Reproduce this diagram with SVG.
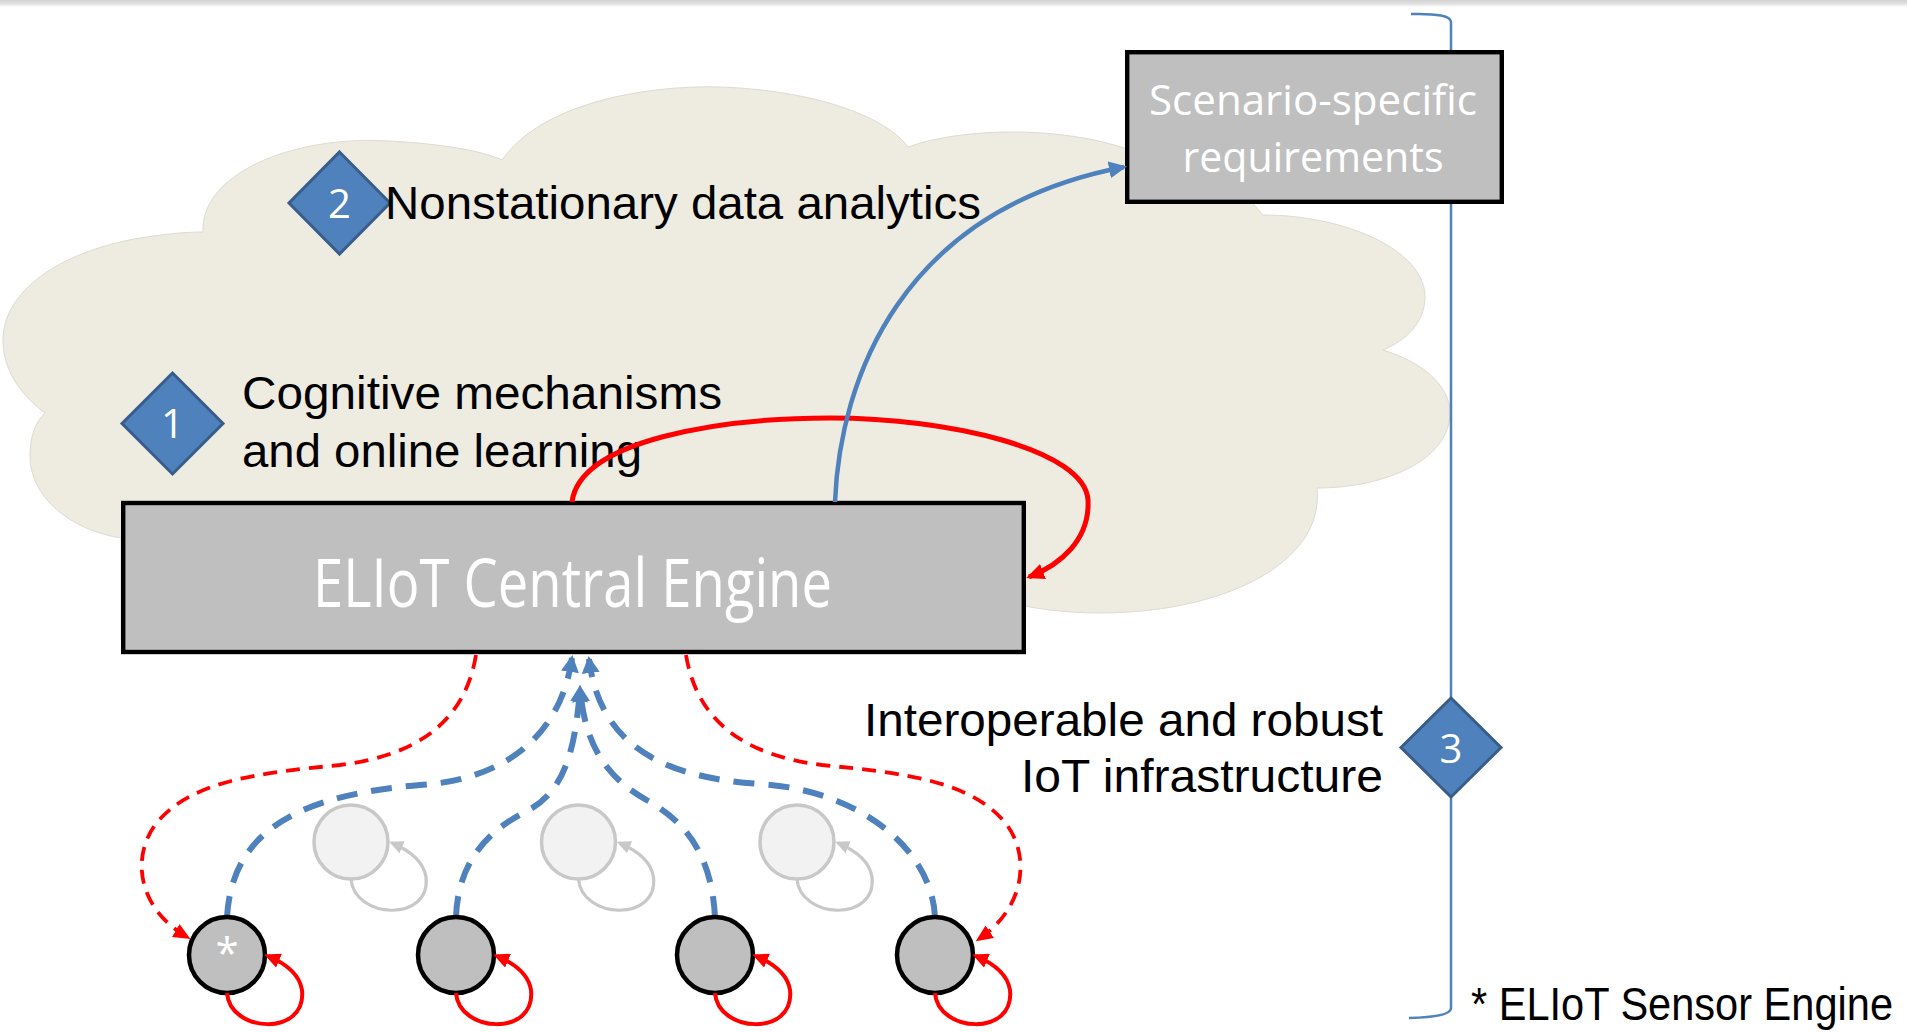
<svg xmlns="http://www.w3.org/2000/svg" width="1907" height="1032" viewBox="0 0 1907 1032">
<defs>
<linearGradient id="topband" x1="0" y1="0" x2="0" y2="1">
<stop offset="0" stop-color="#D2D2D2"/><stop offset="0.6" stop-color="#E4E4E4"/><stop offset="1" stop-color="#FFFFFF"/>
</linearGradient>
<marker id="ahRedS" viewBox="0 0 16 15" refX="12" refY="7.5" markerWidth="16" markerHeight="15" markerUnits="userSpaceOnUse" orient="auto"><path d="M0,0 L16,7.5 L0,15 z" fill="#FF0000"/></marker>
<marker id="ahRedL" viewBox="0 0 18 16" refX="15" refY="8" markerWidth="18" markerHeight="16" markerUnits="userSpaceOnUse" orient="auto"><path d="M0,0 L18,8 L0,16 z" fill="#FF0000"/></marker>
<marker id="ahRedD" viewBox="0 0 17 15" refX="13" refY="7.5" markerWidth="17" markerHeight="15" markerUnits="userSpaceOnUse" orient="auto"><path d="M0,0 L17,7.5 L0,15 z" fill="#FF0000"/></marker>
<marker id="ahBlueD" viewBox="0 0 17 18" refX="14" refY="9" markerWidth="17" markerHeight="18" markerUnits="userSpaceOnUse" orient="auto"><path d="M0,0 L17,9 L0,18 z" fill="#4F81BD"/></marker>
<marker id="ahBlueS" viewBox="0 0 18 17" refX="15" refY="8.5" markerWidth="18" markerHeight="17" markerUnits="userSpaceOnUse" orient="auto"><path d="M0,0 L18,8.5 L0,17 z" fill="#4F81BD"/></marker>
<marker id="ahGray" viewBox="0 0 14 13" refX="11" refY="6.5" markerWidth="14" markerHeight="13" markerUnits="userSpaceOnUse" orient="auto"><path d="M0,0 L14,6.5 L0,13 z" fill="#C8C8C8"/></marker>
</defs>
<style>
.lbl{font-family:"Liberation Sans",Arial,sans-serif;font-size:46px;fill:#000}
.box{fill:#BFBFBF;stroke:#000;stroke-width:4.4}
.boxtxt{font-family:"Open Sans","Noto Sans",sans-serif;fill:#FFFFFF;text-anchor:middle}
.dia{fill:#4F81BD;stroke:#385D8A;stroke-width:3}
.digit{font-family:"Open Sans","Noto Sans",sans-serif;font-size:40px;fill:#FFFFFF;text-anchor:middle}
.sensor{fill:#BFBFBF;stroke:#000;stroke-width:4.5}
.ghost{fill:#F2F2F2;stroke:#C8C8C8;stroke-width:3.5}
.redloop{fill:none;stroke:#FF0000;stroke-width:4}
.grayloop{fill:none;stroke:#C8C8C8;stroke-width:3.2}
.bdash{fill:none;stroke:#4F81BD;stroke-width:6;stroke-dasharray:21 14}
.rdash{fill:none;stroke:#FF0000;stroke-width:3.8;stroke-dasharray:14 9}
</style>
<rect x="0" y="0" width="1907" height="1032" fill="#FFFFFF"/>
<rect x="0" y="0" width="1907" height="7" fill="url(#topband)"/>

<g id="cloud">
<path d="M 203,232 C 200,175 290,135 390,141 C 440,144 480,150 502,160 C 540,105 640,85 720,87 C 810,90 885,115 908,147 C 960,128 1060,125 1130,150 L 1250,200 L 1263,215 C 1345,215 1425,250 1425,297 C 1425,322 1407,340 1383,350 C 1422,362 1450,385 1450,413 C 1450,460 1385,488 1317,488 C 1325,565 1220,613 1100,613 C 1070,613 1045,610 1025,606 L 1025,640 L 121,640 L 121,538 C 70,530 30,497 30,456 C 30,437 35,422 45,413 C 17,392 3,367 3,340 C 3,292 58,252 140,238 C 165,234 185,232 203,232 Z" fill="#EEECE1" stroke="#DDDBD2" stroke-width="1"/>
</g>

<g id="bracket">
<path d="M 1411,14 Q 1451,13 1451,22 L 1451,1008 Q 1451,1017 1409,1018" fill="none" stroke="#4F81BD" stroke-width="2.5"/>
</g>

<g id="scenario">
<rect class="box" x="1127.2" y="52.2" width="374.6" height="149.6"/>
<text class="boxtxt" x="1313" y="115" font-size="42" textLength="328" lengthAdjust="spacingAndGlyphs">Scenario-specific</text>
<text class="boxtxt" x="1313" y="172" font-size="42" textLength="261" lengthAdjust="spacingAndGlyphs">requirements</text>
</g>

<g id="marker2">
<path class="dia" d="M 339.5,152 L 390,203 L 339.5,254 L 289,203 Z"/>
<text class="digit" x="339.5" y="218">2</text>
</g>
<g id="label2">
<text class="lbl" x="385" y="219" textLength="596" lengthAdjust="spacingAndGlyphs">Nonstationary data analytics</text>
</g>

<g id="marker1">
<path class="dia" d="M 172.5,373 L 223,423.5 L 172.5,474 L 122,423.5 Z"/>
<text class="digit" x="172.5" y="438">1</text>
</g>
<g id="label1">
<text class="lbl" x="242" y="409" textLength="480" lengthAdjust="spacingAndGlyphs">Cognitive mechanisms</text>
<text class="lbl" x="242" y="467" textLength="400" lengthAdjust="spacingAndGlyphs">and online learning</text>
</g>

<g id="marker3">
<path class="dia" d="M 1451,698 L 1501,747.5 L 1451,797 L 1401,747.5 Z"/>
<text class="digit" x="1451" y="763">3</text>
</g>
<g id="label3">
<text class="lbl" x="1383" y="736" text-anchor="end" textLength="519" lengthAdjust="spacingAndGlyphs">Interoperable and robust</text>
<text class="lbl" x="1383" y="792" text-anchor="end" textLength="362" lengthAdjust="spacingAndGlyphs">IoT infrastructure</text>
</g>

<g id="footnote">
<text class="lbl" x="1893" y="1020" font-size="41" text-anchor="end" textLength="422" lengthAdjust="spacingAndGlyphs">* ELIoT Sensor Engine</text>
</g>

<g id="central-engine">
<rect class="box" x="123.2" y="503" width="900.6" height="149"/>
<text class="boxtxt" x="572.5" y="607" font-size="68" textLength="519" lengthAdjust="spacingAndGlyphs">ELIoT Central Engine</text>
</g>

<g id="ghost-a">
<circle class="ghost" cx="351" cy="842" r="37"/>
<path class="grayloop" transform="translate(351,842)" d="M0,37 C3,77 80,81 75,35 C73,22 62,10 41,1" marker-end="url(#ahGray)"/>
</g>
<g id="ghost-b">
<circle class="ghost" cx="578.5" cy="842" r="37"/>
<path class="grayloop" transform="translate(578.5,842)" d="M0,37 C3,77 80,81 75,35 C73,22 62,10 41,1" marker-end="url(#ahGray)"/>
</g>
<g id="ghost-c">
<circle class="ghost" cx="797" cy="842" r="37"/>
<path class="grayloop" transform="translate(797,842)" d="M0,37 C3,77 80,81 75,35 C73,22 62,10 41,1" marker-end="url(#ahGray)"/>
</g>

<g id="connectors">
<path class="redloop" style="stroke-width:5" d="M 572,502 C 580,440 720,418 830,418 C 950,418 1085,450 1088,500 C 1090,540 1060,565 1029,577" marker-end="url(#ahRedL)"/>
<path fill="none" stroke="#4F81BD" stroke-width="4.5" d="M 835,502 C 840,380 900,210 1124,167" marker-end="url(#ahBlueS)"/>
<path class="bdash" d="M 227,917 C 232,830 300,795 420,785 C 500,780 560,740 572,658" marker-end="url(#ahBlueD)"/>
<path class="bdash" d="M 456,917 C 458,860 490,830 525,812 C 560,795 575,760 580,688" marker-end="url(#ahBlueD)"/>
<path class="bdash" d="M 715,917 C 712,860 690,825 650,802 C 610,780 585,750 580,688" marker-end="url(#ahBlueD)"/>
<path class="bdash" d="M 935,917 C 932,850 860,790 760,784 C 670,778 600,750 589,659" marker-end="url(#ahBlueD)"/>
<path class="rdash" d="M 476,655 C 465,720 420,755 340,765 C 260,773 190,780 155,825 C 130,860 140,910 187,937" marker-end="url(#ahRedD)"/>
<path class="rdash" d="M 686,655 C 697,720 742,755 822,765 C 902,773 972,780 1007,825 C 1032,860 1022,910 979,939" marker-end="url(#ahRedD)"/>
</g>

<g id="sensor-1">
<circle class="sensor" cx="227" cy="955" r="38"/>
<text x="227" y="968" font-family="Open Sans, sans-serif" font-size="42" fill="#FFFFFF" text-anchor="middle">*</text>
<path class="redloop" transform="translate(227,955)" d="M0,38 C3,78 80,82 75,35 C73,22 62,10 41,1" marker-end="url(#ahRedS)"/>
</g>
<g id="sensor-2">
<circle class="sensor" cx="456" cy="955" r="38"/>
<path class="redloop" transform="translate(456,955)" d="M0,38 C3,78 80,82 75,35 C73,22 62,10 41,1" marker-end="url(#ahRedS)"/>
</g>
<g id="sensor-3">
<circle class="sensor" cx="715" cy="955" r="38"/>
<path class="redloop" transform="translate(715,955)" d="M0,38 C3,78 80,82 75,35 C73,22 62,10 41,1" marker-end="url(#ahRedS)"/>
</g>
<g id="sensor-4">
<circle class="sensor" cx="935" cy="955" r="38"/>
<path class="redloop" transform="translate(935,955)" d="M0,38 C3,78 80,82 75,35 C73,22 62,10 41,1" marker-end="url(#ahRedS)"/>
</g>
</svg>
